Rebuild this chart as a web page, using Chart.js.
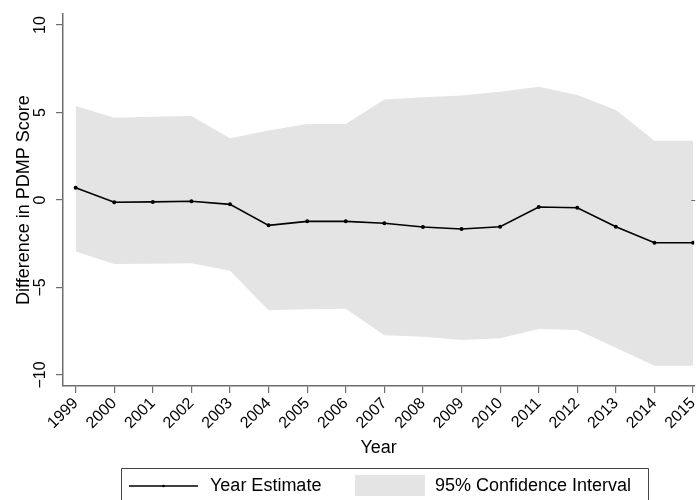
<!DOCTYPE html>
<html>
<head>
<meta charset="utf-8">
<script src="https://cdn.jsdelivr.net/npm/chart.js@4.4.1/dist/chart.umd.min.js"></script>
<style>
  body { margin: 0; background: #fff; }
  #wrap { width: 697px; height: 500px; position: relative; }
</style>
</head>
<body>
<div id="wrap"><canvas id="chart"></canvas></div>
<script>
const years = [1999, 2000, 2001, 2002, 2003, 2004, 2005, 2006, 2007, 2008, 2009, 2010, 2011, 2012, 2013, 2014, 2015];
const estimate = [0.70, -0.13, -0.11, -0.07, -0.25, -1.45, -1.22, -1.22, -1.33, -1.54, -1.66, -1.53, -0.40, -0.44, -1.53, -2.44, -2.44];
const ciUpper = [5.37, 4.70, 4.76, 4.80, 3.53, 3.97, 4.34, 4.34, 5.75, 5.87, 5.97, 6.19, 6.47, 6.00, 5.14, 3.39, 3.39];
const ciLower = [-2.95, -3.66, -3.64, -3.62, -4.04, -6.30, -6.25, -6.21, -7.73, -7.81, -8.00, -7.90, -7.37, -7.43, -8.44, -9.47, -9.47];
const yTicks = [-10, -5, 0, 5, 10];

const FONT = "'Liberation Sans', Arial, sans-serif";
const axisGrey = '#6e6e6e';
const bandGrey = '#e4e4e4';

Chart.defaults.font.family = FONT;
Chart.defaults.color = '#000';

const toPts = arr => arr.map((v, i) => ({ x: years[i], y: v }));

// legend box under the plot, drawn by hand like Stata's
const legendBox = {
    id: 'legendBox',
    afterDraw(chart) {
        const ctx = chart.ctx;
        const yScale = chart.scales.y;
        const right = chart.chartArea.right;
        ctx.save();

        // small tick on the right edge at zero
        const y0 = Math.round(yScale.getPixelForValue(0)) + 0.5;
        ctx.strokeStyle = axisGrey;
        ctx.lineWidth = 1;
        ctx.beginPath();
        ctx.moveTo(right - 3, y0);
        ctx.lineTo(right + 1, y0);
        ctx.stroke();

        // frame (bottom runs off the canvas)
        ctx.strokeStyle = '#444';
        ctx.lineWidth = 1;
        ctx.beginPath();
        ctx.moveTo(121.5, 510);
        ctx.lineTo(121.5, 468.5);
        ctx.lineTo(648.5, 468.5);
        ctx.lineTo(648.5, 510);
        ctx.stroke();

        const midY = 486;
        // line key
        ctx.strokeStyle = '#000';
        ctx.lineWidth = 1.5;
        ctx.beginPath();
        ctx.moveTo(129, midY);
        ctx.lineTo(198, midY);
        ctx.stroke();
        ctx.fillStyle = '#000';
        ctx.beginPath();
        ctx.arc(163.5, midY, 1.3, 0, Math.PI * 2);
        ctx.fill();

        // band key
        ctx.fillStyle = bandGrey;
        ctx.fillRect(355, 475, 70, 21);

        ctx.fillStyle = '#000';
        ctx.font = '18px ' + FONT;
        ctx.textBaseline = 'middle';
        ctx.textAlign = 'left';
        ctx.fillText('Year Estimate', 210, midY);
        ctx.fillText('95% Confidence Interval', 435, midY);
        ctx.restore();
    }
};

new Chart(document.getElementById('chart'), {
    type: 'line',
    data: {
        datasets: [
            {
                label: 'Year Estimate',
                data: toPts(estimate),
                borderColor: '#000',
                backgroundColor: '#000',
                borderWidth: 1.6,
                pointRadius: 1.2,
                pointHoverRadius: 1.2,
                fill: false,
                tension: 0,
                order: 0
            },
            {
                label: '95% Confidence Interval',
                data: toPts(ciUpper),
                borderWidth: 0,
                borderColor: bandGrey,
                backgroundColor: bandGrey,
                pointRadius: 0,
                fill: '+1',
                tension: 0,
                order: 1
            },
            {
                label: 'lower',
                data: toPts(ciLower),
                borderWidth: 0,
                borderColor: bandGrey,
                backgroundColor: bandGrey,
                pointRadius: 0,
                fill: false,
                tension: 0,
                order: 2
            }
        ]
    },
    options: {
        responsive: true,
        maintainAspectRatio: false,
        animation: false,
        layout: { padding: { top: 14, right: 1, bottom: 41, left: 0 } },
        plugins: {
            legend: { display: false },
            tooltip: { enabled: false }
        },
        scales: {
            x: {
                type: 'linear',
                min: 1998.672,
                max: 2015.03,
                afterBuildTicks: s => { s.ticks = years.map(v => ({ value: v })); },
                afterFit: s => { s.height = 73; s.paddingLeft = 0; s.paddingRight = 0; },
                grid: { display: true, drawOnChartArea: false, drawTicks: true, tickLength: 7, color: axisGrey, lineWidth: 1.2 },
                border: { display: true, color: axisGrey, width: 1.5 },
                ticks: {
                    minRotation: 45,
                    maxRotation: 45,
                    padding: 1,
                    font: { size: 16 },
                    color: '#000',
                    callback: v => String(v)
                },
                title: { display: true, text: 'Year', font: { size: 18 }, color: '#000', padding: { top: 0, bottom: 0 } }
            },
            y: {
                type: 'linear',
                min: -10.63,
                max: 10.63,
                afterBuildTicks: s => { s.ticks = yTicks.map(v => ({ value: v })); },
                afterFit: s => { s.width = 63; s.paddingTop = 0; s.paddingBottom = 0; },
                grid: { display: true, drawOnChartArea: false, drawTicks: true, tickLength: 7, color: axisGrey, lineWidth: 1.2 },
                border: { display: true, color: axisGrey, width: 1.5 },
                ticks: {
                    minRotation: 90,
                    maxRotation: 90,
                    crossAlign: 'center',
                    padding: 2,
                    font: { size: 16 },
                    color: '#000',
                    callback: v => String(v).replace('-', '\u2212')
                },
                title: { display: true, text: 'Difference in PDMP Score', font: { size: 18 }, color: '#000', padding: { top: 13, bottom: 0 } }
            }
        }
    },
    plugins: [legendBox]
});
</script>
</body>
</html>
